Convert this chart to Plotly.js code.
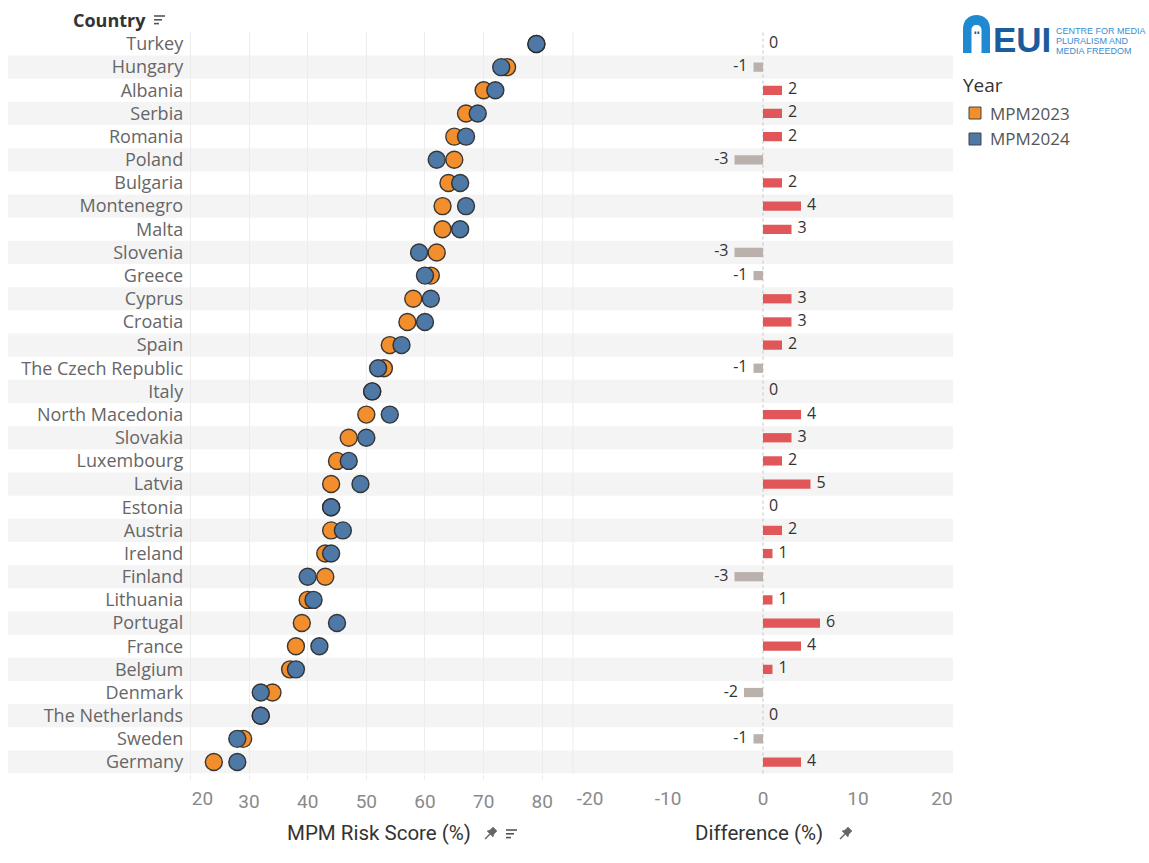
<!DOCTYPE html>
<html>
<head>
<meta charset="utf-8">
<script src="https://cdn.plot.ly/plotly-3.0.1.min.js"></script>
<style>html,body{margin:0;padding:0;background:#fff;}#chart{width:1149px;height:863px;}</style>
</head>
<body>
<div id="chart"></div>
<script>
// ---------------- data ----------------
const countries = ["Turkey","Hungary","Albania","Serbia","Romania","Poland","Bulgaria","Montenegro","Malta","Slovenia","Greece","Cyprus","Croatia","Spain","The Czech Republic","Italy","North Macedonia","Slovakia","Luxembourg","Latvia","Estonia","Austria","Ireland","Finland","Lithuania","Portugal","France","Belgium","Denmark","The Netherlands","Sweden","Germany"];
const mpm2023 = [79,74,70,67,65,65,64,63,63,62,61,58,57,54,53,51,50,47,45,44,44,44,43,43,40,39,38,37,34,32,29,24];
const mpm2024 = [79,73,72,69,67,62,66,67,66,59,60,61,60,56,52,51,54,50,47,49,44,46,44,40,41,45,42,38,32,32,28,28];
const difference = [0,-1,2,2,2,-3,2,4,3,-3,-1,3,3,2,-1,0,4,3,2,5,0,2,1,-3,1,6,4,1,-2,0,-1,4];
const scoreTicks = [20,30,40,50,60,70,80];
const diffTicks = [-20,-10,0,10,20];
const seriesNames = ["MPM2023","MPM2024"];

// ---------------- layout helpers ----------------
const W = 1149, H = 863;
const px = v => v / W;
const py = v => 1 - v / H;
const plotTop = 32.4, plotBottom = 773.6;
const C_OR = "#f28e2b", C_BL = "#4e79a7", C_POS = "#e15759", C_NEG = "#bab0ac";

// invisible anchor traces so that the edge-label axes are drawn
const anchorTrace = (xa, xv) => ({type:"scatter", mode:"markers", x:[xv], y:[countries[0]], xaxis:xa, yaxis:"y",
  marker:{size:1, opacity:0}, showlegend:false, hoverinfo:"skip"});

const traces = [
  {type:"bar", orientation:"h", x:difference, y:countries, xaxis:"x2", yaxis:"y", width:0.4,
   marker:{color:difference.map(d => d > 0 ? C_POS : C_NEG)}, showlegend:false, hoverinfo:"x+y"},
  {type:"scatter", mode:"markers+text", x:difference, y:countries, xaxis:"x2", yaxis:"y",
   text:difference.map(String), textposition:difference.map(d => d < 0 ? "middle left" : "middle right"),
   textfont:{family:"Open Sans", size:16, color:"#333"}, marker:{size:8, opacity:0},
   showlegend:false, hoverinfo:"skip", cliponaxis:false},
  {type:"scatter", mode:"markers", name:seriesNames[0], x:mpm2023, y:countries, xaxis:"x", yaxis:"y",
   marker:{size:17, color:C_OR, line:{color:"rgba(40,40,40,0.9)", width:1.4}}, hoverinfo:"x+y+name", showlegend:false, cliponaxis:false},
  {type:"scatter", mode:"markers", name:seriesNames[1], x:mpm2024, y:countries, xaxis:"x", yaxis:"y",
   marker:{size:17, color:C_BL, line:{color:"rgba(40,40,40,0.9)", width:1.4}}, hoverinfo:"x+y+name", showlegend:false, cliponaxis:false},
  anchorTrace("x3", scoreTicks[0]),
  anchorTrace("x4", diffTicks[0]),
  anchorTrace("x5", diffTicks[diffTicks.length-1])
];

const shapes = [];
// row banding
countries.forEach((c, i) => {
  if (i % 2 === 1) shapes.push({type:"rect", layer:"below", xref:"paper", yref:"y", x0:px(8), x1:px(953), y0:i-0.5, y1:i+0.5, fillcolor:"#f4f4f4", line:{width:0}});
});
// pane divider
shapes.push({type:"line", xref:"paper", yref:"paper", x0:px(573), x1:px(573), y0:py(plotBottom), y1:py(plotTop), line:{color:"#ececec", width:1}, layer:"below"});
// dotted zero line
shapes.push({type:"line", xref:"x2", yref:"paper", x0:0, x1:0, y0:py(plotBottom), y1:py(plotTop), line:{color:"#c4c4c4", width:1, dash:"dot"}, layer:"below"});

// sort icons
function sortIcon(x, y) {
  [[11,0],[8,3.8],[5,7.6]].forEach(([len, dy]) => shapes.push({type:"line", xref:"paper", yref:"paper", x0:px(x), x1:px(x+len), y0:py(y+dy), y1:py(y+dy), line:{color:"#555", width:1.6}}));
}
sortIcon(154, 16);
sortIcon(506, 830);
// pin icons
function pinIcon(x, y) {
  const p = pts => "M" + pts.map(([a,b]) => px(x+a) + "," + py(y+b)).join(" L") + " Z";
  shapes.push({type:"path", xref:"paper", yref:"paper", path:p([[6,3],[9,0],[13,4],[10,7],[9,10],[3,4]]), fillcolor:"#666", line:{color:"#666", width:0.5}});
  shapes.push({type:"line", xref:"paper", yref:"paper", x0:px(x+1), y0:py(y+12), x1:px(x+6), y1:py(y+7), line:{color:"#666", width:1.4}});
}
pinIcon(484, 827);
pinIcon(839, 827);

// legend squares
shapes.push({type:"rect", xref:"paper", yref:"paper", x0:px(969), x1:px(981), y0:py(119), y1:py(107), fillcolor:C_OR, line:{color:"#444", width:1}});
shapes.push({type:"rect", xref:"paper", yref:"paper", x0:px(969), x1:px(981), y0:py(145), y1:py(133), fillcolor:C_BL, line:{color:"#444", width:1}});

// logo arch
(function(){
  const f = (a,b) => px(a) + "," + py(b);
  shapes.push({type:"path", xref:"paper", yref:"paper",
    path:"M" + f(963,53) + " L" + f(963,29) + " C" + f(963,20) + " " + f(969,15) + " " + f(976.5,15) + " C" + f(984,15) + " " + f(990,20) + " " + f(990,29) + " L" + f(990,53) + " Z",
    fillcolor:"#1f8ad2", line:{width:0}});
  shapes.push({type:"path", xref:"paper", yref:"paper",
    path:"M" + f(971.5,53) + " L" + f(971.5,30) + " C" + f(971.5,27) + " " + f(973.5,25) + " " + f(976.5,25) + " C" + f(979.5,25) + " " + f(981.5,27) + " " + f(981.5,30) + " L" + f(981.5,53) + " Z",
    fillcolor:"#ffffff", line:{width:0}});
  shapes.push({type:"rect", xref:"paper", yref:"paper", x0:px(974.5), x1:px(976.3), y0:py(34), y1:py(31.5), fillcolor:"#1d5c9c", line:{width:0}});
  shapes.push({type:"rect", xref:"paper", yref:"paper", x0:px(977.5), x1:px(979.3), y0:py(34), y1:py(31.5), fillcolor:"#1d5c9c", line:{width:0}});
})();

const ann = (text, x, y, opts) => Object.assign({text, x:px(x), y:py(y), xref:"paper", yref:"paper", showarrow:false, xanchor:"left", yanchor:"middle", borderpad:0}, opts);
const annotations = [
  ann("<b>Country</b>", 72, 20, {font:{family:"Open Sans", size:18, color:"#333"}}),
  ann("MPM Risk Score (%)", 379, 833, {xanchor:"center", font:{family:"Roboto", size:20.5, color:"#333"}}),
  ann("Difference (%)", 759, 833, {xanchor:"center", font:{family:"Roboto", size:20.5, color:"#333"}}),
  ann("Year", 962, 85, {font:{family:"Open Sans", size:19, color:"#333"}}),
  ann(seriesNames[0], 989, 113, {font:{family:"Open Sans", size:17, color:"#555"}}),
  ann(seriesNames[1], 989, 139, {font:{family:"Open Sans", size:17, color:"#555"}}),
  ann("<b>EUI</b>", 992, 40, {font:{family:"Liberation Sans", size:35, color:"#1d5c9c"}}),
  ann("CENTRE FOR MEDIA", 1055, 30.5, {font:{family:"Liberation Sans", size:9, color:"#3a8dd0"}}),
  ann("PLURALISM AND", 1055, 41, {font:{family:"Liberation Sans", size:9, color:"#3a8dd0"}}),
  ann("MEDIA FREEDOM", 1055, 51.5, {font:{family:"Liberation Sans", size:9, color:"#3a8dd0"}})
];

const tickFont = {family:"Roboto", size:19, color:"#8a8a8a"};
const edgeAxis = (over, val, shift, range) => ({overlaying:over, range, tickvals:[val], ticktext:[String(val)], ticklabelshift:shift,
  showgrid:false, zeroline:false, showline:false, ticks:"", ticklabelstandoff:11, tickfont:tickFont, anchor:"y", fixedrange:true});

const layout = {
  width:W, height:H, margin:{l:0, r:0, t:0, b:0},
  paper_bgcolor:"#fff", plot_bgcolor:"rgba(0,0,0,0)",
  showlegend:false, bargap:0.6,
  font:{family:"Open Sans", color:"#666"},
  xaxis:{domain:[px(189.2), px(573)], range:[19.8, 85.24], tickvals:scoreTicks,
    ticktext:scoreTicks.map((t,i) => i === 0 ? "" : String(t)),
    showgrid:true, gridcolor:"#ececec", gridwidth:1, zeroline:false, showline:false,
    ticks:"outside", ticklen:5, tickcolor:"#ececec", ticklabelstandoff:6,
    tickfont:tickFont, anchor:"y", fixedrange:true},
  xaxis2:{domain:[px(573), px(953)], range:[-20, 20], tickvals:diffTicks,
    ticktext:diffTicks.map((t,i) => (i === 0 || i === diffTicks.length-1) ? "" : String(t)),
    showgrid:false, zeroline:false, showline:false,
    ticks:"", ticklabelstandoff:11, tickfont:tickFont, anchor:"y", fixedrange:true},
  xaxis3:edgeAxis("x", scoreTicks[0], 12, [19.8, 85.24]),
  xaxis4:edgeAxis("x2", diffTicks[0], 17, [-20, 20]),
  xaxis5:edgeAxis("x2", diffTicks[diffTicks.length-1], -11, [-20, 20]),
  yaxis:{domain:[py(plotBottom), py(plotTop)], type:"category", categoryarray:countries, categoryorder:"array",
    range:[countries.length - 0.5, -0.5], showgrid:false, zeroline:false, showline:false, ticks:"",
    ticklabelstandoff:5, tickfont:{family:"Open Sans", size:18, color:"#666"}, anchor:"x", fixedrange:true},
  shapes, annotations
};

Plotly.newPlot("chart", traces, layout, {displayModeBar:false, staticPlot:true});
</script>
</body>
</html>
